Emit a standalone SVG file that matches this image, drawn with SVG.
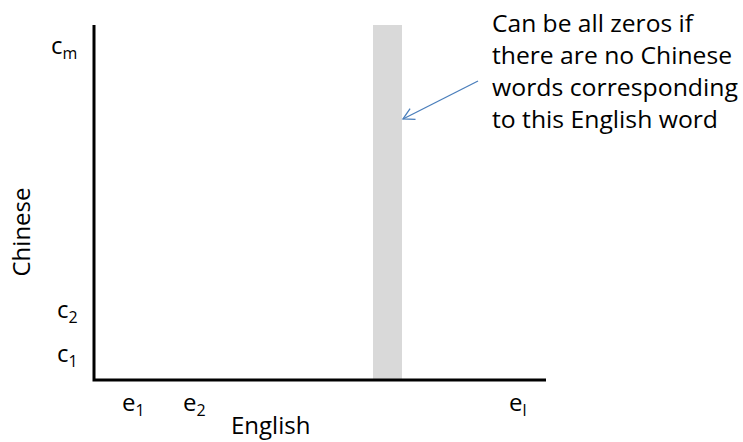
<svg xmlns="http://www.w3.org/2000/svg" width="743" height="442" viewBox="0 0 743 442">
<style>
text{font-family:"Open Sans","Liberation Sans",sans-serif;fill:#000}
.lab{font-size:24px}
.sub{font-size:16px}
.note{font-size:23px}
</style>
<defs>
<marker id="ah" markerWidth="14" markerHeight="14" refX="12" refY="7" orient="auto" markerUnits="userSpaceOnUse">
<path d="M1,1 L12,7 L1,13" fill="none" stroke="#4a7ebb" stroke-width="1.3"/>
</marker>
</defs>
<rect width="743" height="442" fill="#fff"/>
<g id="bar"><rect x="373" y="25" width="29" height="355" fill="#d9d9d9"/></g>
<g id="axes"><path d="M94,25 V380 H546" fill="none" stroke="#000" stroke-width="3"/></g>
<g id="ylabels">
<text class="lab" x="51" y="54">c<tspan class="sub" dy="5">m</tspan></text>
<text class="lab" x="57" y="318">c<tspan class="sub" dy="5">2</tspan></text>
<text class="lab" x="57" y="362">c<tspan class="sub" dy="5">1</tspan></text>
<text class="lab" transform="translate(30,232) rotate(-90)" text-anchor="middle">Chinese</text>
</g>
<g id="xlabels">
<text class="lab" x="122" y="411">e<tspan class="sub" dy="5">1</tspan></text>
<text class="lab" x="183" y="411">e<tspan class="sub" dy="5">2</tspan></text>
<text class="lab" x="509" y="411">e<tspan class="sub" dy="5">l</tspan></text>
<text class="lab" x="231" y="434">English</text>
</g>
<g id="note">
<text class="note" x="492" y="32" textLength="201" lengthAdjust="spacingAndGlyphs">Can be all zeros if</text>
<text class="note" x="492" y="64" textLength="240" lengthAdjust="spacingAndGlyphs">there are no Chinese</text>
<text class="note" x="492" y="96" textLength="246" lengthAdjust="spacingAndGlyphs">words corresponding</text>
<text class="note" x="492" y="128" textLength="226" lengthAdjust="spacingAndGlyphs">to this English word</text>
</g>
<g id="connectors">
<line x1="478" y1="81" x2="403" y2="119" stroke="#4a7ebb" stroke-width="1.3" marker-end="url(#ah)"/>
</g>
</svg>
